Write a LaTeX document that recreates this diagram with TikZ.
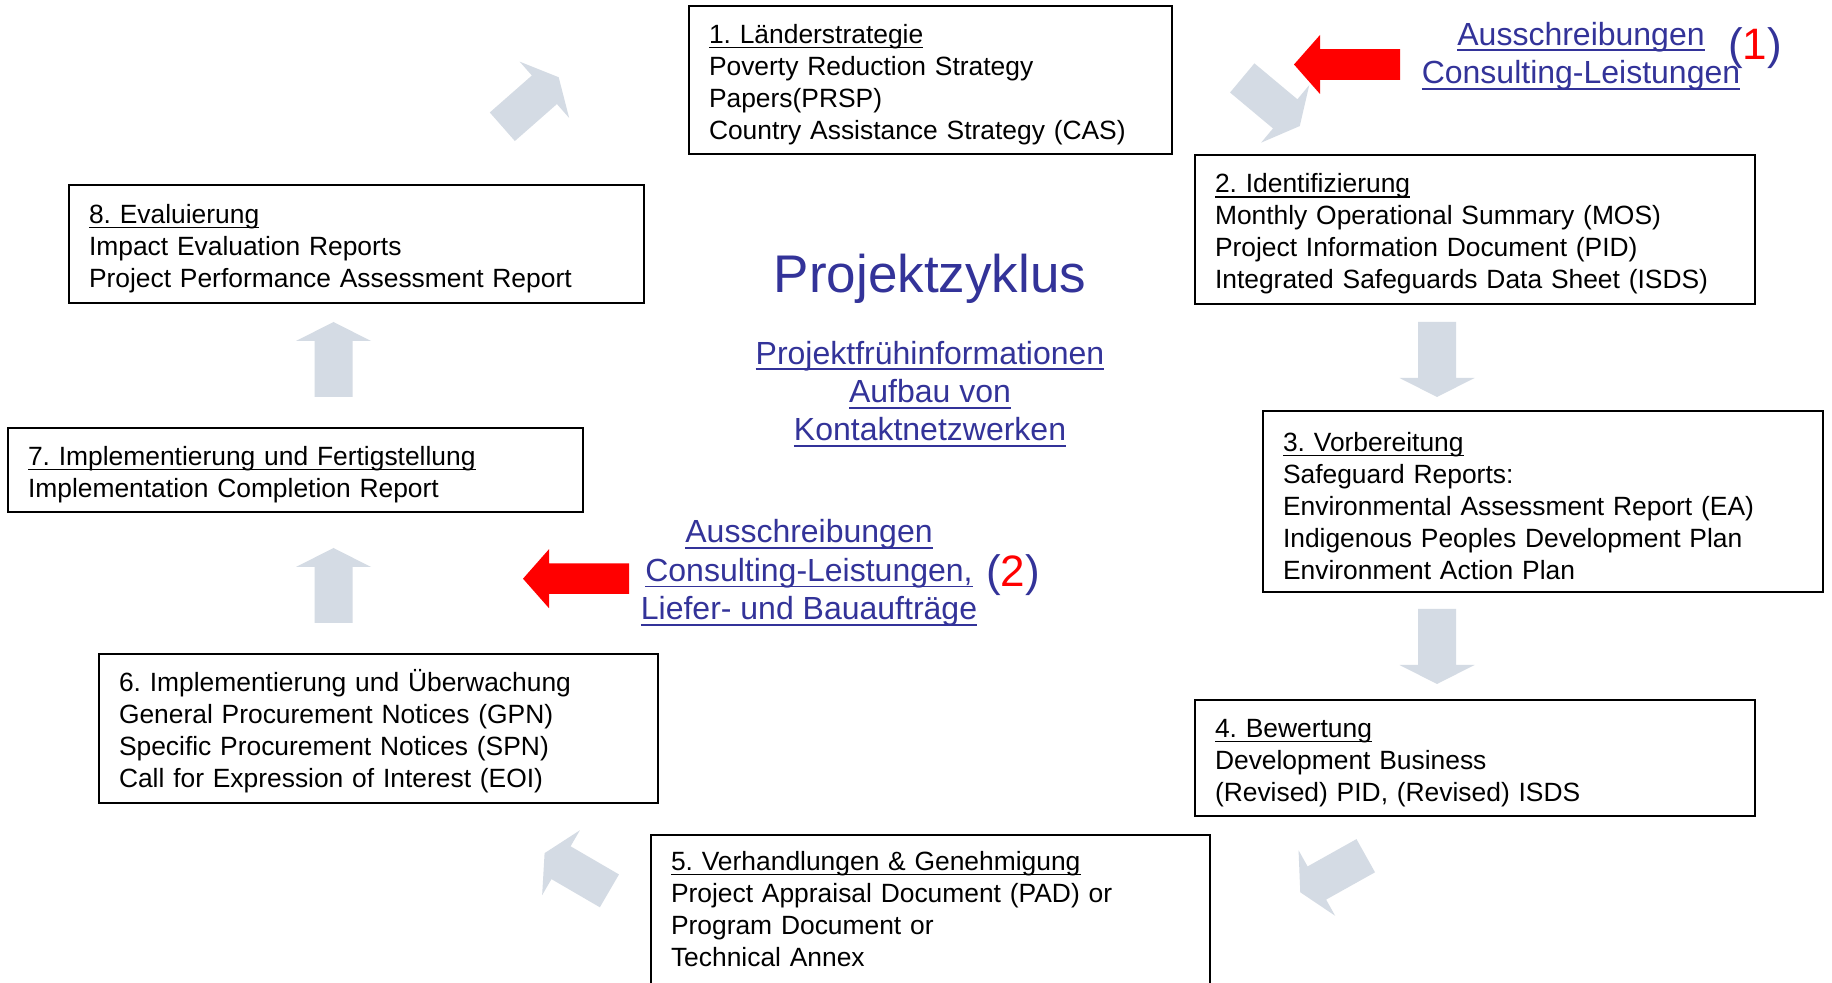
\documentclass[tikz,border=0pt]{standalone}
\usepackage{fontspec}
\setmainfont{Liberation Sans}
\definecolor{linkblue}{RGB}{51,51,153}
\definecolor{arrowgray}{RGB}{212,219,228}
\newsavebox\ulbox
\newcommand\ulx[1]{\sbox\ulbox{#1}\rlap{\rule[-0.19em]{\wd\ulbox}{0.055em}}\usebox\ulbox}
\newcommand\topstrut{\rule{0pt}{13.8pt}}
\newcommand\botstrut{\rule[-7pt]{0pt}{7pt}}
\frenchspacing
\begin{document}
\begin{tikzpicture}[x=0.5pt,y=-0.5pt,
  box/.style={draw=black, line width=1.3pt, align=left, inner xsep=10pt, inner ysep=0pt,
    font=\fontsize{13.2}{16}\selectfont\frenchspacing},
  link/.style={text=linkblue, align=center, inner sep=0pt, font=\fontsize{16}{19.2}\selectfont},
  titletext/.style={text=linkblue, inner sep=0pt, font=\fontsize{26.5}{30}\selectfont},
  numtext/.style={text=linkblue, inner sep=0pt, font=\fontsize{22}{24}\selectfont},
  redarrow/.style={fill=red},
  grayarrow/.pic={\fill[arrowgray] (-37.5,-19)--(18.5,-19)--(18.5,-37.5)--(37.5,0)--(18.5,37.5)--(18.5,19)--(-37.5,19)--cycle;}
]
\useasboundingbox (0,0) rectangle (1832,983);
\fill[white] (0,0) rectangle (1832,983);

% gray cycle arrows
\pic[rotate=41.3] at (530.5,102) {grayarrow};
\pic[rotate=-39.9] at (1271,102) {grayarrow};
\pic[rotate=-90] at (1437,359.5) {grayarrow};
\pic[rotate=-90] at (1437,646.5) {grayarrow};
\pic[rotate=-150.8] at (1333,874) {grayarrow};
\pic[rotate=149.8] at (577,872) {grayarrow};
\pic[rotate=90] at (333.5,359.5) {grayarrow};
\pic[rotate=90] at (333.5,585.5) {grayarrow};

% red arrows
\fill[redarrow] (1400,49.2)--(1320,49.2)--(1320,35)--(1294,64.5)--(1320,94)--(1320,79.8)--(1400,79.8)--cycle;
\fill[redarrow] (629,563.4)--(549,563.4)--(549,549.2)--(523,578.7)--(549,608.2)--(549,594)--(629,594)--cycle;

% boxes
\node[box, text width=221.5pt, minimum height=74pt] (b1) at (930.5,80)
  {\topstrut\ulx{1. Länderstrategie}\\Poverty Reduction Strategy\\Papers(PRSP)\\Country Assistance Strategy (CAS)};
\node[box, text width=260pt, minimum height=74.5pt] (b2) at (1475,229.5)
  {\topstrut\ulx{2. Identifizierung}\\Monthly Operational Summary (MOS)\\Project Information Document (PID)\\Integrated Safeguards Data Sheet (ISDS)};
\node[box, text width=260pt, minimum height=90.5pt] (b3) at (1543,501.5)
  {\topstrut\ulx{3. Vorbereitung}\\Safeguard Reports:\\Environmental Assessment Report (EA)\\Indigenous Peoples Development Plan\\Environment Action Plan};
\node[box, text width=260pt, minimum height=58pt] (b4) at (1475,758)
  {\topstrut\ulx{4. Bewertung}\\Development Business\\(Revised) PID, (Revised) ISDS};
\node[box, text width=259.5pt, minimum height=76.5pt] (b5) at (930.5,911.5)
  {\topstrut\ulx{5. Verhandlungen \& Genehmigung}\\Project Appraisal Document (PAD) or\\Program Document or\\Technical Annex\botstrut};
\node[box, text width=259.5pt, minimum height=74.5pt] (b6) at (378.5,728.5)
  {\topstrut 6. Implementierung und Überwachung\\General Procurement Notices (GPN)\\Specific Procurement Notices (SPN)\\Call for Expression of Interest (EOI)};
\node[box, text width=267.5pt, minimum height=42pt] (b7) at (295.5,470)
  {\topstrut\ulx{7. Implementierung und Fertigstellung}\\Implementation Completion Report};
\node[box, text width=267.5pt, minimum height=59pt] (b8) at (356.5,244)
  {\topstrut\ulx{8. Evaluierung}\\Impact Evaluation Reports\\Project Performance Assessment Report};

% center texts
\node[titletext] (title) at (930,278.5) {Projektzyklus};
\node[link] (info) at (930,394) {\ulx{Projektfrühinformationen}\\\ulx{Aufbau von}\\\ulx{Kontaktnetzwerken}};
\node[link] (tender1) at (1581,56) {\ulx{Ausschreibungen}\\\ulx{Consulting-Leistungen}};
\node[numtext] (num1) at (1755,48) {(\textcolor{red}{1})};
\node[link] (tender2) at (809,573) {\ulx{Ausschreibungen}\\\ulx{Consulting-Leistungen,}\\\ulx{Liefer- und Bauaufträge}};
\node[numtext] (num2) at (1013,575) {(\textcolor{red}{2})};
\end{tikzpicture}
\end{document}
